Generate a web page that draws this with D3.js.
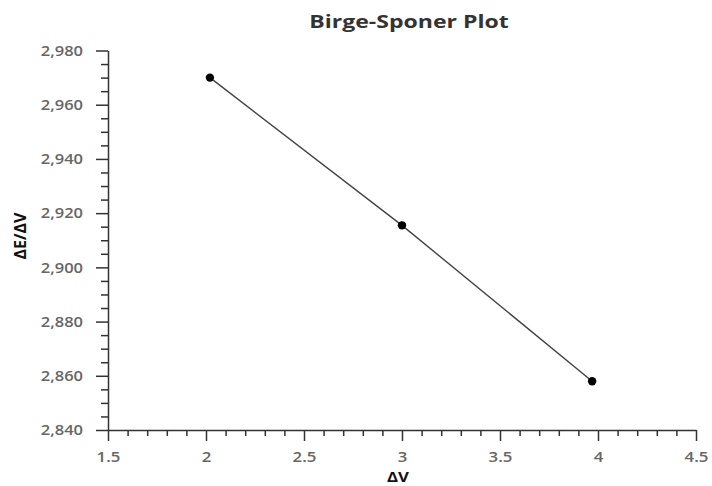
<!DOCTYPE html>
<html>
<head>
<meta charset="utf-8">
<script src="https://cdn.jsdelivr.net/npm/d3@7"></script>
<style>
  html, body { margin: 0; padding: 0; background: #fff; }
  svg { display: block; }
  text { font-family: "Open Sans", "DejaVu Sans", sans-serif; }
</style>
</head>
<body>
<svg id="chart" width="712" height="486"></svg>
<script>
// Vibrational quantum number spacing vs. energy spacing
const deltaV = [2.02, 3.0, 3.97];
const deltaE = [2970, 2915.5, 2858];
const xTicks = [1.5, 2, 2.5, 3, 3.5, 4, 4.5];
const yTicks = [2840, 2860, 2880, 2900, 2920, 2940, 2960, 2980];
const title = "Birge-Sponer Plot";
const xLabel = "ΔV";
const yLabel = "ΔE/ΔV";

const svg = d3.select("#chart");
const m = { left: 108, right: 696, top: 50.5, bottom: 430 };

const x = d3.scaleLinear().domain([1.5, 4.5]).range([m.left, m.right]);
const y = d3.scaleLinear().domain([2840, 2980]).range([m.bottom, m.top]);

const axisColor = "#333";
const labelColor = "#666";

// widen glyphs horizontally around each text's own anchor
function widen(sel, sx) {
  sel.each(function () {
    const t = d3.select(this);
    const tx = +(t.attr("x") || 0);
    t.attr("x", tx / sx).attr("transform", `scale(${sx},1)`);
  });
}

// x axis: major ticks every 0.5, minor every 0.1
const xMinor = d3.range(15, 46).map(d => d / 10).filter(d => !xTicks.some(t => Math.abs(t - d) < 1e-9));
const gx = svg.append("g").attr("transform", `translate(0,${m.bottom})`);
gx.append("g").call(d3.axisBottom(x).tickValues(xMinor).tickSize(6).tickFormat(""))
  .call(g => g.select(".domain").remove());
gx.append("g").call(d3.axisBottom(x).tickValues(xTicks).tickSize(11).tickSizeOuter(0)
    .tickPadding(10).tickFormat(d3.format("")));
gx.selectAll("line, path").attr("stroke", axisColor).attr("stroke-width", 1.5);
gx.selectAll("text").attr("fill", labelColor).attr("font-size", 15).attr("font-weight", 600)
  .attr("font-family", "\"Open Sans\", sans-serif").call(widen, 1.12);

// y axis: major ticks every 20, minor every 5
const yMinor = d3.range(2840, 2981, 5).filter(d => d % 20 !== 0);
const gy = svg.append("g").attr("transform", `translate(${m.left},0)`);
gy.append("g").call(d3.axisLeft(y).tickValues(yMinor).tickSize(7).tickFormat(""))
  .call(g => g.select(".domain").remove());
gy.append("g").call(d3.axisLeft(y).tickValues(yTicks).tickSize(12).tickSizeOuter(0)
    .tickPadding(13).tickFormat(d3.format(",")));
gy.selectAll("line, path").attr("stroke", axisColor).attr("stroke-width", 1.5);
gy.selectAll("text").attr("fill", labelColor).attr("font-size", 15).attr("font-weight", 600)
  .attr("font-family", "\"Open Sans\", sans-serif").call(widen, 1.1);

// data line and markers
const pts = deltaV.map((v, i) => [v, deltaE[i]]);
svg.append("path")
  .datum(pts)
  .attr("fill", "none")
  .attr("stroke", "#444")
  .attr("stroke-width", 1.4)
  .attr("d", d3.line().x(d => x(d[0])).y(d => y(d[1])));

svg.selectAll("circle.pt")
  .data(pts)
  .join("circle")
  .attr("class", "pt")
  .attr("cx", d => x(d[0]))
  .attr("cy", d => y(d[1]))
  .attr("r", 4.2)
  .attr("fill", "#000");

// title and axis labels
svg.append("text")
  .attr("x", 409).attr("y", 28)
  .attr("text-anchor", "middle")
  .attr("font-size", 18).attr("font-weight", "bold")
  .attr("fill", "#333")
  .text(title)
  .call(widen, 1.28);

svg.append("text")
  .attr("x", 398).attr("y", 482)
  .attr("text-anchor", "middle")
  .attr("font-size", 15).attr("font-weight", "bold")
  .attr("fill", "#111")
  .text(xLabel)
  .call(widen, 1.12);

svg.append("text")
  .attr("transform", "translate(26,236) rotate(-90)")
  .attr("text-anchor", "middle")
  .attr("font-size", 16).attr("font-weight", "bold")
  .attr("fill", "#111")
  .text(yLabel);
</script>
</body>
</html>
